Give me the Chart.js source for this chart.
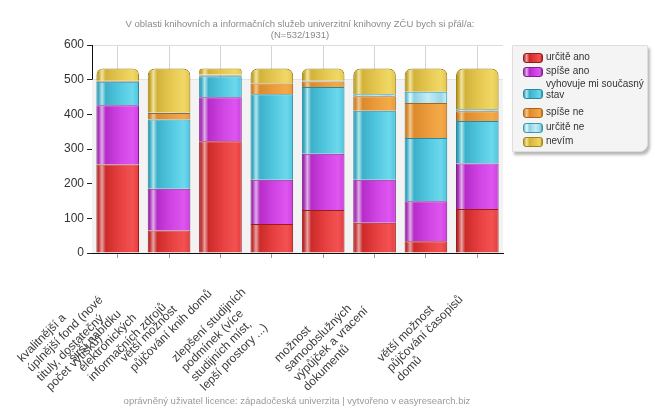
<!DOCTYPE html>
<html>
<head>
<meta charset="utf-8">
<script src="https://cdn.jsdelivr.net/npm/chart.js@4.4.1/dist/chart.umd.min.js"></script>
<style>
html,body{margin:0;padding:0;background:#fff;}
#wrap{position:relative;width:655px;height:420px;overflow:hidden;font-family:"Liberation Sans",Arial,sans-serif;}
#c{position:absolute;left:0;top:0;}
#title{position:absolute;left:100px;width:400px;top:19px;text-align:center;font-size:9.5px;line-height:10.5px;color:#8a8a8a;}
#foot{position:absolute;left:97px;width:400px;top:395px;text-align:center;font-size:9.5px;color:#9a9a9a;}
#legend{position:absolute;left:512px;top:45px;width:134px;height:105px;background:#f4f4f5;border:1px solid #dedede;box-shadow:2px 3px 3px #b8b8b8;border-radius:0 0 8px 0;}
.li{position:absolute;left:10px;font-size:10px;line-height:11px;color:#333;}
.sw{position:absolute;left:0;width:18px;height:8px;border-radius:3px;}
.lt{position:absolute;left:23px;width:110px;}
</style>
</head>
<body>
<div id="wrap">
<canvas id="c" width="655" height="420"></canvas>
<div id="title">V oblasti knihovních a informačních služeb univerzitní knihovny ZČU bych si přál/a:<br>(N=532/1931)</div>
<div id="legend"></div>
<div id="foot">oprávněný uživatel licence: západočeská univerzita | vytvořeno v easyresearch.biz</div>
</div>
<script>
// ---- data ----
const categories = [
  ["kvalitnější a", "úplnější fond (nové", "tituly, dostatečný", "počet výtisků)"],
  ["širší nabídku", "elektronických", "informačních zdrojů"],
  ["větší možnost", "půjčování knih domů"],
  ["zlepšení studijních", "podmínek (více", "studijních míst,", "lepší prostory ...)"],
  [],
  ["možnost", "samoobslužných", "výpůjček a vracení", "dokumentů"],
  [],
  ["větší možnost", "půjčování časopisů", "domů"]
];
const seriesNames = ["určitě ano", "spíše ano", "vyhovuje mi současný stav", "spíše ne", "určitě ne", "nevím"];
const urciteAno = [255, 65, 322, 84, 124, 87, 34, 127];
const spiseAno  = [171, 120, 127, 127, 162, 124, 115, 131];
const vyhovuje  = [68, 200, 61, 247, 193, 199, 183, 123];
const spiseNe   = [2, 19, 3, 31, 16, 42, 101, 28];
const urciteNe  = [1, 2, 2, 0, 2, 6, 32, 6];
const nevim     = [35, 126, 17, 43, 35, 74, 67, 117];
const yTicks = [0, 100, 200, 300, 400, 500, 600];

// ---- styles ----
const palettes = [
  {dark:'#a81c1c', edge:'#c23030', hi:'#e6a4a4', mid:'#cc2a2a', base:'#e84040', bright:'#f25252'},
  {dark:'#8a1e9c', edge:'#a830bc', hi:'#dfb0e6', mid:'#b52cc8', base:'#d044e4', bright:'#de55ef'},
  {dark:'#2590a8', edge:'#38a8c0', hi:'#b4e6ef', mid:'#3cb0c8', base:'#52c8e0', bright:'#6cd8ec'},
  {dark:'#b86c18', edge:'#d08428', hi:'#f2c890', mid:'#dc8a2c', base:'#eb9c3c', bright:'#f4aa48'},
  {dark:'#3aa0b8', edge:'#6cc0d4', hi:'#e8f8fb', mid:'#8cd2e2', base:'#c4ecf4', bright:'#9ad8e8'},
  {dark:'#a88a18', edge:'#c4a42c', hi:'#f2e4a0', mid:'#d2b23a', base:'#e6c850', bright:'#f0d866'}
];
const borderCols = ['#9c1a1a','#80208e','#2a88a0','#a8661c','#3a9ab2','#a08418'];
const values = [urciteAno, spiseAno, vyhovuje, spiseNe, urciteNe, nevim];
const BAR_PCT = 0.83;

function makeGrad(p){
  return function(ctx){
    const chart = ctx.chart;
    const xs = chart.scales && chart.scales.x;
    if (!chart.chartArea || !xs || ctx.dataIndex === undefined) return p.base;
    const x = xs.getPixelForValue(ctx.dataIndex);
    const w = xs.width / categories.length * BAR_PCT;
    const g = chart.ctx.createLinearGradient(x - w/2, 0, x + w/2, 0);
    g.addColorStop(0, p.dark);
    g.addColorStop(0.05, p.edge);
    g.addColorStop(0.13, p.hi);
    g.addColorStop(0.22, p.mid);
    g.addColorStop(0.55, p.base);
    g.addColorStop(0.85, p.bright);
    g.addColorStop(0.97, p.base);
    g.addColorStop(1, p.dark);
    return g;
  };
}

const datasets = values.map((v, i) => ({
  label: seriesNames[i],
  data: v,
  backgroundColor: makeGrad(palettes[i]),
  borderColor: borderCols[i],
  borderWidth: 1,
  borderSkipped: 'bottom',
  borderRadius: i === values.length - 1 ? {topLeft: 7, topRight: 7, bottomLeft: 0, bottomRight: 0} : 0,
  barPercentage: BAR_PCT,
  categoryPercentage: 1.0
}));

// ---- HTML legend ----
const legendRows = [
  {t:'určitě ano', y:5},
  {t:'spíše ano', y:19},
  {t:'vyhovuje mi současný<br>stav', y:32, sy:41},
  {t:'spíše ne', y:60},
  {t:'určitě ne', y:75},
  {t:'nevím', y:89}
];
const lg = document.getElementById('legend');
legendRows.forEach((r, i) => {
  const p = palettes[i];
  const d = document.createElement('div');
  d.className = 'li';
  d.style.top = r.y + 'px';
  const sy = (r.sy !== undefined ? r.sy - r.y : 0) + 1.5;
  d.innerHTML = '<div class="sw" style="top:' + sy + 'px;border:1px solid ' + borderCols[i] +
    ';background:linear-gradient(to right,' + p.edge + ' 0%,' + p.hi + ' 15%,' + p.mid + ' 30%,' + p.base + ' 65%,' + p.bright + ' 90%,' + p.dark + ' 100%)"></div>' +
    '<div class="lt">' + r.t + '</div>';
  lg.appendChild(d);
});

// ---- plugins ----
const bgPlugin = {
  id: 'bg',
  beforeDatasetsDraw(chart){
    const {ctx, chartArea:a, scales:{y}} = chart;
    ctx.save();
    ctx.fillStyle = '#f3f3f4';
    const top = y.getPixelForValue(500);
    ctx.fillRect(a.left, top, a.right - a.left, a.bottom - top);
    ctx.restore();
  }
};
// reference draws vertical gridlines behind; keep
const xLabelPlugin = {
  id: 'xlabels',
  afterDraw(chart){
    const {ctx, scales:{x}} = chart;
    const W = 145, lh = 13.5, asc = 10;
    ctx.save();
    ctx.font = '12px "Liberation Sans", Arial, sans-serif';
    ctx.fillStyle = '#3a3a3a';
    ctx.textAlign = 'left';
    ctx.textBaseline = 'alphabetic';
    categories.forEach((lines, i) => {
      if (!lines.length) return;
      const tx = x.getPixelForValue(i);
      const ty = x.top;
      const px = tx - W / Math.SQRT2;
      const py = ty + W / Math.SQRT2;
      ctx.save();
      ctx.translate(px, py);
      ctx.rotate(-Math.PI / 4);
      lines.forEach((ln, k) => ctx.fillText(ln, 0, asc + k * lh));
      ctx.restore();
    });
    ctx.restore();
  }
};

new Chart(document.getElementById('c'), {
  type: 'bar',
  data: { labels: categories.map((l, i) => l.join(' ') || String(i + 1)), datasets },
  options: {
    responsive: false,
    animation: false,
    layout: { padding: { top: 45, right: 152, left: 0, bottom: 0 } },
    plugins: { legend: { display: false }, title: { display: false }, tooltip: { enabled: false } },
    scales: {
      x: {
        stacked: true,
        grid: { offset: false, color: '#d4d4d4', drawTicks: true, tickLength: 5, tickColor: '#999' },
        border: { color: '#111', width: 1 },
        ticks: { display: false },
        afterFit(s){ s.height = 167; }
      },
      y: {
        stacked: true,
        min: 0, max: 600,
        afterBuildTicks(s){ s.ticks = yTicks.map(v => ({value: v})); },
        grid: { color: '#dcdcdc', tickLength: 5, tickColor: '#222' },
        border: { color: '#111', width: 1 },
        ticks: { color: '#333', font: { size: 12, family: '"Liberation Sans", Arial, sans-serif' }, padding: 3 },
        afterFit(s){ s.width = 92; }
      }
    }
  },
  plugins: [bgPlugin, xLabelPlugin]
});
</script>
</body>
</html>
